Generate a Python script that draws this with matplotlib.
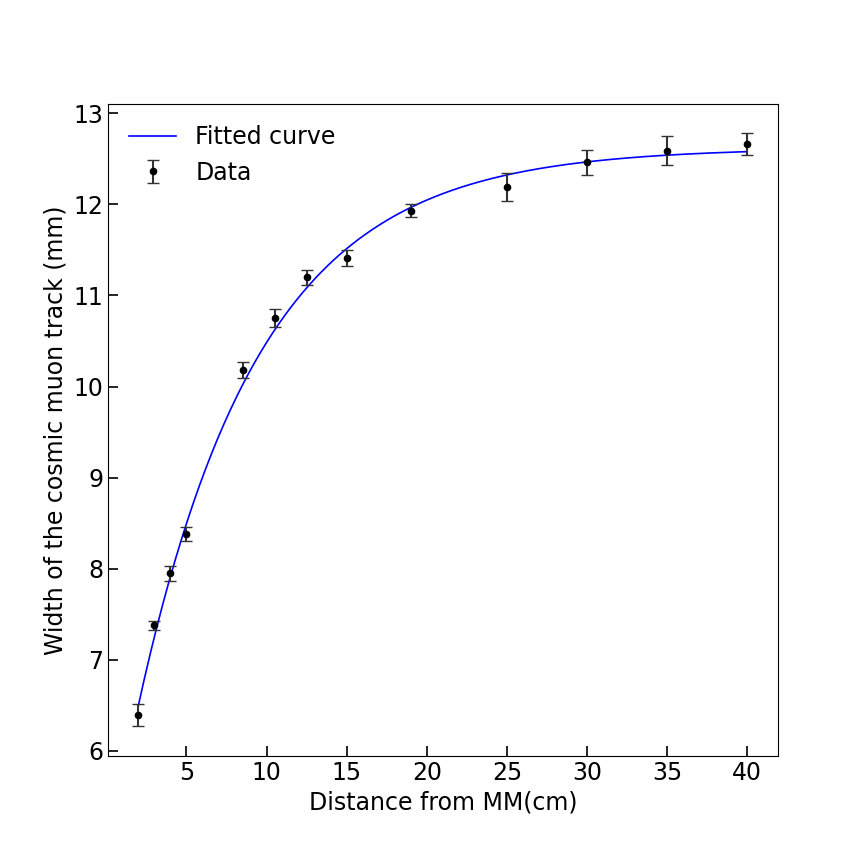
import numpy as np
import matplotlib
matplotlib.use('Agg')
import matplotlib.pyplot as plt

# measured points
distance = [2, 3, 4, 5, 8.5, 10.5, 12.5, 15, 19, 25, 30, 35, 40]
width = [6.39, 7.38, 7.95, 8.38, 10.18, 10.75, 11.20, 11.41, 11.93, 12.19, 12.46, 12.59, 12.66]
width_err = [0.12, 0.05, 0.08, 0.08, 0.09, 0.10, 0.08, 0.09, 0.07, 0.15, 0.14, 0.16, 0.12]

# fitted saturation model: w = A - B*exp(-d/C)
fit_A, fit_B, fit_C = 12.62, 7.96, 7.6

d_fit = np.linspace(min(distance), max(distance), 400)
w_fit = fit_A - fit_B * np.exp(-d_fit / fit_C)

fig, ax = plt.subplots(figsize=(8.64, 8.64), dpi=100)
fig.subplots_adjust(left=0.125, right=0.9, top=0.88, bottom=0.125)

ax.plot(d_fit, w_fit, color='blue', lw=1.2, label='Fitted curve')
ax.errorbar(distance, width, yerr=width_err, fmt='o', color='black', ms=4.5,
            ecolor='#333333', elinewidth=1.5, capsize=4, label='Data')

ax.set_xlabel('Distance from MM(cm)', fontsize=17)
ax.set_ylabel('Width of the cosmic muon track (mm)', fontsize=17)
ax.set_xticks([5, 10, 15, 20, 25, 30, 35, 40])
ax.set_yticks([6, 7, 8, 9, 10, 11, 12, 13])
ax.tick_params(direction='in', length=7, width=1.2, labelsize=17)
ax.legend(loc='upper left', frameon=False, fontsize=17)

plt.savefig('out.png', dpi=100)
plt.close()
